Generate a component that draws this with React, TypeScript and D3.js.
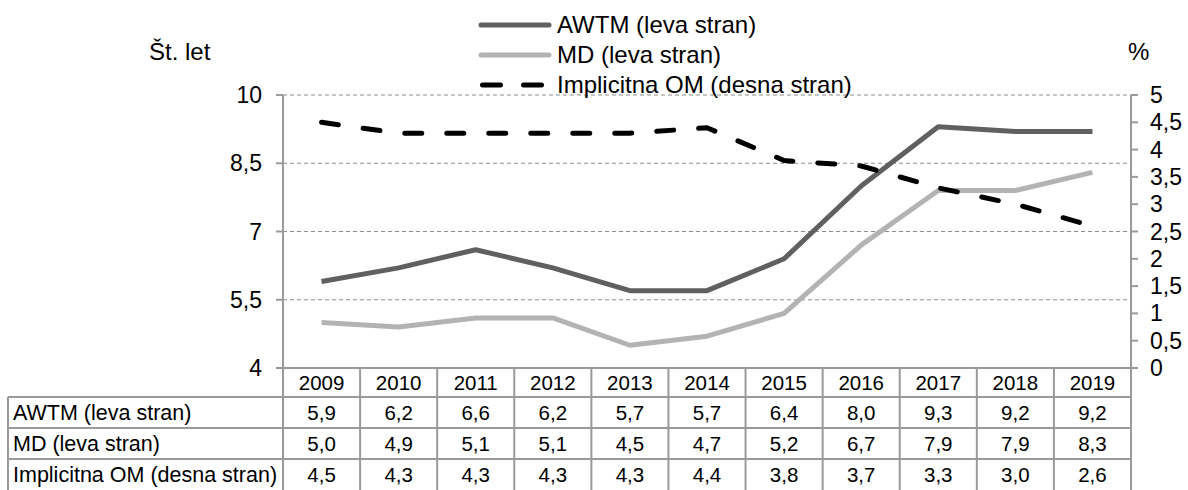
import React from "react";
import * as d3 from "d3";

const years = ["2009", "2010", "2011", "2012", "2013", "2014", "2015", "2016", "2017", "2018", "2019"];
const awtm = [5.9, 6.2, 6.6, 6.2, 5.7, 5.7, 6.4, 8.0, 9.3, 9.2, 9.2];
const md = [5.0, 4.9, 5.1, 5.1, 4.5, 4.7, 5.2, 6.7, 7.9, 7.9, 8.3];
const om = [4.5, 4.3, 4.3, 4.3, 4.3, 4.4, 3.8, 3.7, 3.3, 3.0, 2.6];
const leftTicks = [4, 5.5, 7, 8.5, 10];
const rightTicks = [0, 0.5, 1, 1.5, 2, 2.5, 3, 3.5, 4, 4.5, 5];

const seriesNames = ["AWTM (leva stran)", "MD (leva stran)", "Implicitna OM (desna stran)"];

const W = 1188;
const H = 490;
const left = 283;
const right = 1131;
const top = 95;
const bottom = 368;
const font = "'Liberation Sans', Arial, sans-serif";
const axisColor = "#9a9a9a";

const fmt = (v: number) => String(v).replace(".", ",");
const fmt1 = (v: number) => v.toFixed(1).replace(".", ",");

export default function App() {
  const x = d3.scaleBand<string>().domain(years).range([left, right]).padding(0);
  const yL = d3.scaleLinear().domain([4, 10]).range([bottom, top]);
  const yR = d3.scaleLinear().domain([0, 5]).range([bottom, top]);
  const cx = (i: number) => (x(years[i]) as number) + x.bandwidth() / 2;

  const lineL = d3.line<number>().x((_, i) => cx(i)).y((d) => yL(d));
  const lineR = d3.line<number>().x((_, i) => cx(i)).y((d) => yR(d));

  const series = [
    { name: seriesNames[0], data: awtm, color: "#606060", dash: undefined as string | undefined, path: lineL(awtm) },
    { name: seriesNames[1], data: md, color: "#b3b3b3", dash: undefined, path: lineL(md) },
    { name: seriesNames[2], data: om, color: "#000000", dash: "17 25", path: lineR(om) },
  ];

  // table rows
  const headerTop = bottom;
  const headerBottom = 397;
  const rowH = 31;
  const tableLeft = 8;

  return (
    <svg width={W} height={H} style={{ position: "absolute", left: 0, top: 0 }} fontFamily={font}>
      <rect width={W} height={H} fill="#fff" />

      {/* gridlines */}
      {leftTicks.filter((t) => t !== 4).map((t) => (
        <line key={t} x1={left} x2={right} y1={yL(t)} y2={yL(t)} stroke="#8c8c8c" strokeWidth={1} strokeDasharray="4 3" />
      ))}

      {/* left axis */}
      <line x1={left} x2={left} y1={top} y2={bottom} stroke={axisColor} strokeWidth={2} />
      {leftTicks.map((t) => (
        <g key={t}>
          <line x1={left - 7} x2={left} y1={yL(t)} y2={yL(t)} stroke={axisColor} strokeWidth={2} />
          <text x={262} y={yL(t)} dy="0.35em" textAnchor="end" fontSize={23} fill="#000">{fmt(t)}</text>
        </g>
      ))}
      <line x1={left} x2={right} y1={bottom} y2={bottom} stroke={axisColor} strokeWidth={2} />

      {/* right axis */}
      <line x1={right} x2={right} y1={top} y2={bottom} stroke={axisColor} strokeWidth={2} />
      {rightTicks.map((t) => (
        <g key={t}>
          <line x1={right} x2={right + 7} y1={yR(t)} y2={yR(t)} stroke={axisColor} strokeWidth={2} />
          <text x={1150} y={yR(t)} dy="0.35em" textAnchor="start" fontSize={23} fill="#000">{fmt(t)}</text>
        </g>
      ))}

      <text x={149} y={60} fontSize={24} fill="#000">Št. let</text>
      <text x={1128} y={60} fontSize={24} fill="#000">%</text>

      {/* series */}
      {series.map((s) => (
        <path key={s.name} d={s.path || ""} fill="none" stroke={s.color} strokeWidth={5}
          strokeDasharray={s.dash} strokeLinecap={s.dash ? "round" : "butt"} strokeLinejoin="round" />
      ))}

      {/* legend */}
      {series.map((s, i) => {
        const ly = 25 + i * 30;
        return (
          <g key={s.name}>
            <line x1={s.dash ? 482.5 : 481} x2={549} y1={ly} y2={ly} stroke={s.color} strokeWidth={5}
              strokeLinecap="round" strokeDasharray={s.dash ? "18 23" : undefined} />
            <text x={557} y={ly} dy="0.35em" fontSize={24} fill="#000">{s.name}</text>
          </g>
        );
      })}

      {/* data table */}
      <g>
        {years.map((yr) => (
          <text key={yr} x={(x(yr) as number) + x.bandwidth() / 2} y={(headerTop + headerBottom) / 2} dy="0.35em"
            textAnchor="middle" fontSize={20.5} fill="#000">{yr}</text>
        ))}
        {series.map((s, r) => {
          const ry = headerBottom + r * rowH;
          return (
            <g key={s.name}>
              <line x1={tableLeft} x2={right} y1={ry} y2={ry} stroke={axisColor} strokeWidth={2} />
              <text x={tableLeft + 5} y={ry + rowH / 2} dy="0.35em" fontSize={21.5} fill="#000">{s.name}</text>
              {s.data.map((v, i) => (
                <text key={i} x={cx(i)} y={ry + rowH / 2} dy="0.35em" textAnchor="middle" fontSize={20.5} fill="#000">{fmt1(v)}</text>
              ))}
            </g>
          );
        })}
        <line x1={tableLeft} x2={tableLeft} y1={headerBottom} y2={H + 10} stroke={axisColor} strokeWidth={2} />
        {years.map((yr) => (
          <line key={yr} x1={x(yr) as number} x2={x(yr) as number} y1={headerTop} y2={H + 10} stroke={axisColor} strokeWidth={2} />
        ))}
        <line x1={right} x2={right} y1={headerTop} y2={H + 10} stroke={axisColor} strokeWidth={2} />
      </g>
    </svg>
  );
}
